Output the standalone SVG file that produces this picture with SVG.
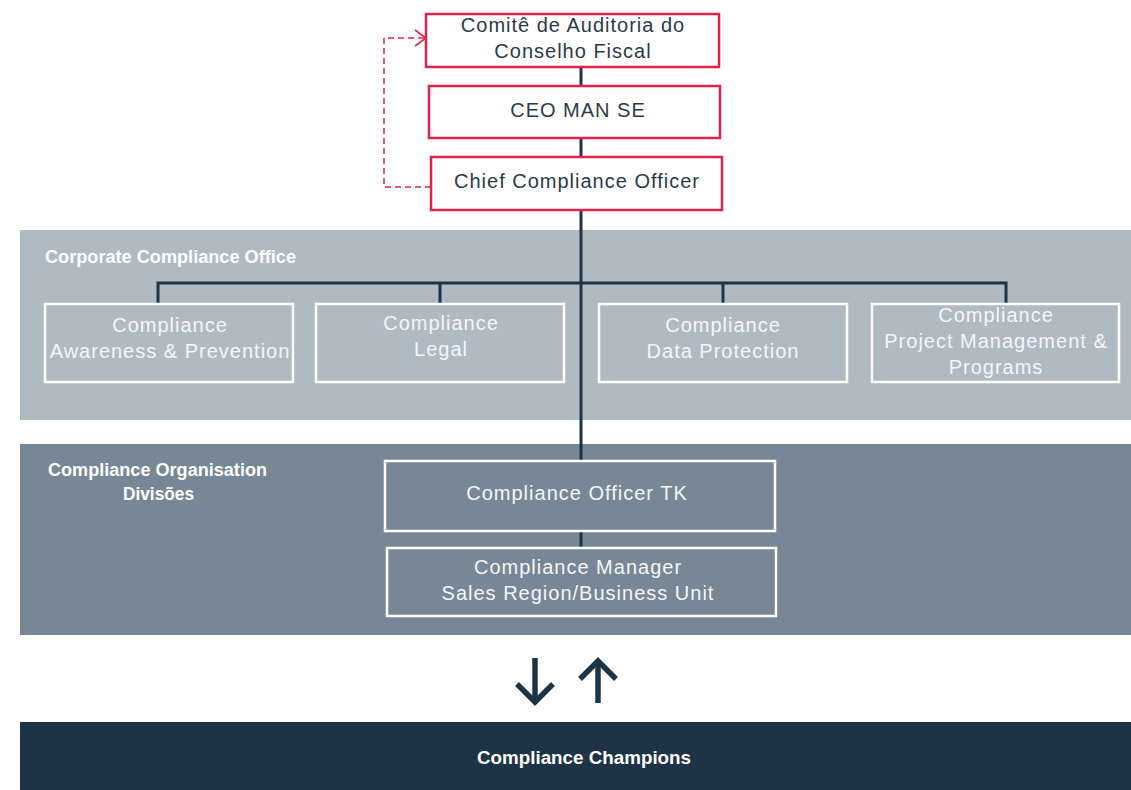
<svg xmlns="http://www.w3.org/2000/svg" width="1131" height="790" viewBox="0 0 1131 790">
<style>
.red{fill:#fff;stroke:#e0234e;stroke-width:2.5}
.wb{fill:none;stroke:#ffffff;stroke-width:2.5}
.dk{font-family:"Liberation Sans",Arial,sans-serif;font-size:20px;letter-spacing:1px;fill:#2b3a4a;text-anchor:middle}
.wt{font-family:"Liberation Sans",Arial,sans-serif;font-size:20px;letter-spacing:1px;fill:#f4f6f8;text-anchor:middle}
.hd{font-family:"Liberation Sans",Arial,sans-serif;font-size:18px;font-weight:bold;fill:#ffffff}
.con{fill:none;stroke:#1e3346;stroke-width:3}
</style>
<defs>
<marker id="chev" markerWidth="14" markerHeight="18" refX="12" refY="9" orient="auto" markerUnits="userSpaceOnUse">
<path d="M1,1 L12,9 L1,17" fill="none" stroke="#e0234e" stroke-width="1.6"/>
</marker>
</defs>
<rect x="0" y="0" width="1131" height="790" fill="#ffffff"/>
<g id="band-corporate">
<rect x="20" y="230" width="1111" height="190" fill="#b0bac3"/>
<text class="hd" x="45" y="263" textLength="251" lengthAdjust="spacingAndGlyphs">Corporate Compliance Office</text>
</g>
<g id="band-divisions">
<rect x="20" y="444" width="1111" height="191" fill="#788796"/>
<text class="hd" x="48" y="476" textLength="219" lengthAdjust="spacingAndGlyphs">Compliance Organisation</text>
<text class="hd" x="123" y="500" textLength="71" lengthAdjust="spacingAndGlyphs">Divisões</text>
</g>
<g id="band-champions">
<rect x="20" y="722" width="1111" height="68" fill="#1e3346"/>
<text class="hd" x="477" y="764" textLength="214" lengthAdjust="spacingAndGlyphs">Compliance Champions</text>
</g>
<g id="connectors">
<line class="con" x1="581" y1="67" x2="581" y2="461"/>
<line class="con" x1="581" y1="531" x2="581" y2="548"/>
<polyline class="con" points="158,304 158,283 1006,283 1006,304"/>
<line class="con" x1="440" y1="283" x2="440" y2="304"/>
<line class="con" x1="723" y1="283" x2="723" y2="304"/>
<polyline points="431,187 384,187 384,38 426,38" fill="none" stroke="#e0234e" stroke-width="1.5" stroke-dasharray="6,4" marker-end="url(#chev)"/>
<g fill="none" stroke="#1e3346" stroke-width="5.5">
<line x1="535" y1="658" x2="535" y2="700"/>
<polyline points="517,684 535,702 553,684"/>
<line x1="598" y1="703" x2="598" y2="662"/>
<polyline points="580,679 598,661 616,679"/>
</g>
</g>
<g id="comite">
<rect class="red" x="426" y="14" width="293" height="53"/>
<text class="dk" x="573" y="32">Comitê de Auditoria do</text>
<text class="dk" x="573" y="58">Conselho Fiscal</text>
</g>
<g id="ceo">
<rect class="red" x="429" y="86" width="291" height="52"/>
<text class="dk" x="578" y="117">CEO MAN SE</text>
</g>
<g id="cco">
<rect class="red" x="431" y="157" width="291" height="53"/>
<text class="dk" x="577" y="188">Chief Compliance Officer</text>
</g>
<g id="awareness">
<rect class="wb" x="45" y="304" width="248" height="78"/>
<text class="wt" x="170" y="332">Compliance</text>
<text class="wt" x="170" y="358">Awareness &amp; Prevention</text>
</g>
<g id="legal">
<rect class="wb" x="316" y="304" width="248" height="78"/>
<text class="wt" x="441" y="330">Compliance</text>
<text class="wt" x="441" y="356">Legal</text>
</g>
<g id="dataprotection">
<rect class="wb" x="599" y="304" width="248" height="78"/>
<text class="wt" x="723" y="332">Compliance</text>
<text class="wt" x="723" y="358">Data Protection</text>
</g>
<g id="pmp">
<rect class="wb" x="872" y="304" width="247" height="78"/>
<text class="wt" x="996" y="322">Compliance</text>
<text class="wt" x="996" y="348">Project Management &amp;</text>
<text class="wt" x="996" y="374">Programs</text>
</g>
<g id="officer-tk">
<rect class="wb" x="385" y="461" width="390" height="70"/>
<text class="wt" x="577" y="500">Compliance Officer TK</text>
</g>
<g id="manager">
<rect class="wb" x="387" y="548" width="389" height="68"/>
<text class="wt" x="578" y="574">Compliance Manager</text>
<text class="wt" x="578" y="600">Sales Region/Business Unit</text>
</g>
</svg>
